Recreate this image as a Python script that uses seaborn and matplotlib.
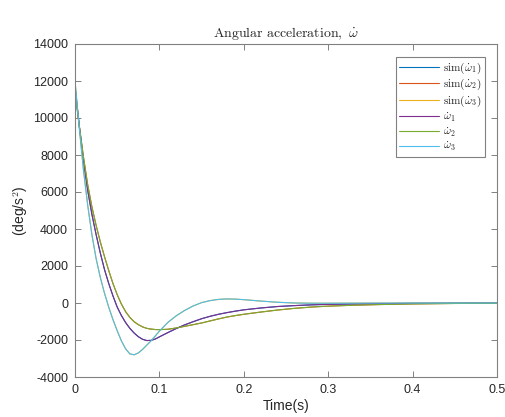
import numpy as np
import pandas as pd
import matplotlib
matplotlib.use("Agg")
import matplotlib.pyplot as plt
import seaborn as sns

# ---- data ----
t = [0.0, 0.005, 0.01, 0.015, 0.02, 0.025, 0.03, 0.035, 0.04, 0.045, 0.05,
     0.055, 0.06, 0.065, 0.07, 0.075, 0.08, 0.085, 0.09, 0.095, 0.1,
     0.11, 0.12, 0.13, 0.14, 0.15, 0.16, 0.17, 0.18, 0.19, 0.2,
     0.22, 0.24, 0.26, 0.28, 0.3, 0.33, 0.36, 0.4, 0.45, 0.5]

w1 = [11700, 9600, 7700, 6100, 4800, 3700, 2700, 1800, 1050, 380, -220,
      -680, -1060, -1370, -1620, -1820, -1960, -2030, -2020, -1950, -1830,
      -1600, -1380, -1180, -1010, -850, -720, -610, -520, -440, -370,
      -270, -190, -140, -100, -75, -50, -35, -20, -10, -5]

w2 = [11400, 9600, 7900, 6400, 5200, 4200, 3300, 2500, 1750, 1050, 450,
      -60, -470, -780, -1010, -1170, -1290, -1370, -1410, -1435, -1440,
      -1420, -1350, -1260, -1170, -1080, -970, -860, -760, -680, -610,
      -490, -380, -290, -220, -170, -120, -85, -50, -25, -15]

w3 = [12000, 9500, 7200, 5300, 3700, 2400, 1380, 520, -230, -900, -1500,
      -2050, -2480, -2750, -2800, -2700, -2510, -2280, -2050, -1790, -1520,
      -1050, -690, -400, -160, 20, 130, 195, 220, 210, 180,
      105, 40, 0, -12, -12, -8, -4, 0, 0, 0]

sim_w1 = [11700, 9600, 7700, 6100, 4800, 3700, 2700, 1800, 1050, 380, -220,
          -680, -1060, -1370, -1620, -1820, -1960, -2030, -2020, -1950, -1830,
          -1600, -1380, -1180, -1010, -850, -720, -610, -520, -440, -370,
          -270, -190, -140, -100, -75, -50, -35, -20, -10, -5]

sim_w2 = [11400, 9600, 7900, 6400, 5200, 4200, 3300, 2500, 1750, 1050, 450,
          -60, -470, -780, -1010, -1170, -1290, -1370, -1410, -1435, -1440,
          -1420, -1350, -1260, -1170, -1080, -970, -860, -760, -680, -610,
          -490, -380, -290, -220, -170, -120, -85, -50, -25, -15]

sim_w3 = [12000, 9500, 7200, 5300, 3700, 2400, 1380, 520, -230, -900, -1500,
          -2050, -2480, -2750, -2800, -2700, -2510, -2280, -2050, -1790, -1520,
          -1050, -690, -400, -160, 20, 130, 195, 220, 210, 180,
          105, 40, 0, -12, -12, -8, -4, 0, 0, 0]

labels = [r'$\mathrm{sim}(\dot{\omega}_1)$', r'$\mathrm{sim}(\dot{\omega}_2)$',
          r'$\mathrm{sim}(\dot{\omega}_3)$', r'$\dot{\omega}_1$',
          r'$\dot{\omega}_2$', r'$\dot{\omega}_3$']
series = [sim_w1, sim_w2, sim_w3, w1, w2, w3]
colors = ['#0072BD', '#D95319', '#EDB120', '#7E2F8E', '#77AC30', '#4DBEEE']

xticks = [0, 0.1, 0.2, 0.3, 0.4, 0.5]
yticks = [-4000, -2000, 0, 2000, 4000, 6000, 8000, 10000, 12000, 14000]

# ---- style ----
sns.set_theme(style='white')
plt.rcParams['font.family'] = ['Liberation Sans', 'DejaVu Sans']
plt.rcParams['mathtext.fontset'] = 'cm'

frames = []
for lab, vals in zip(labels, series):
    frames.append(pd.DataFrame({'t': t, 'v': vals, 'series': lab}))
df = pd.concat(frames, ignore_index=True)

fig = plt.figure(figsize=(5.05, 4.17), dpi=100)
ax = fig.add_axes([75/505, 1-377/417, (497-75)/505, (377-44)/417])

sns.lineplot(data=df, x='t', y='v', hue='series', hue_order=labels,
             palette=dict(zip(labels, colors)), sort=False, estimator=None,
             linewidth=0.8, ax=ax)

ax.set_xlim(0, 0.5)
ax.set_ylim(-4000, 14000)
ax.set_xticks(xticks)
ax.set_xticklabels(['0', '0.1', '0.2', '0.3', '0.4', '0.5'])
ax.set_yticks(yticks)
ax.set_yticklabels([str(v) for v in yticks])
ax.tick_params(direction='in', length=4, width=0.7, color='#808080',
               labelsize=9, labelcolor='#262626', top=True, right=True,
               left=True, bottom=True, pad=5)
for s in ax.spines.values():
    s.set_visible(True)
    s.set_color('#808080')
    s.set_linewidth(0.8)

ax.set_xlabel('Time(s)', fontsize=10, color='#262626', labelpad=2)
ax.set_ylabel(r'(deg/s$^2$)', fontsize=10, color='#262626', labelpad=2)
ax.set_title(r'$\mathrm{Angular\ acceleration,\ }\dot{\omega}$', fontsize=10,
             color='#262626', pad=5)

handles, _ = ax.get_legend_handles_labels()
leg = ax.legend(handles, labels, loc='upper right',
                bbox_to_anchor=((485-75)/422, (377-57)/333),
                borderaxespad=0, fontsize=8, handlelength=3.6,
                handletextpad=0.4, labelspacing=0.12, borderpad=0.3,
                frameon=True, fancybox=False, framealpha=1,
                edgecolor='#808080')
leg.get_frame().set_linewidth(0.8)

fig.savefig('out.png', dpi=100)
